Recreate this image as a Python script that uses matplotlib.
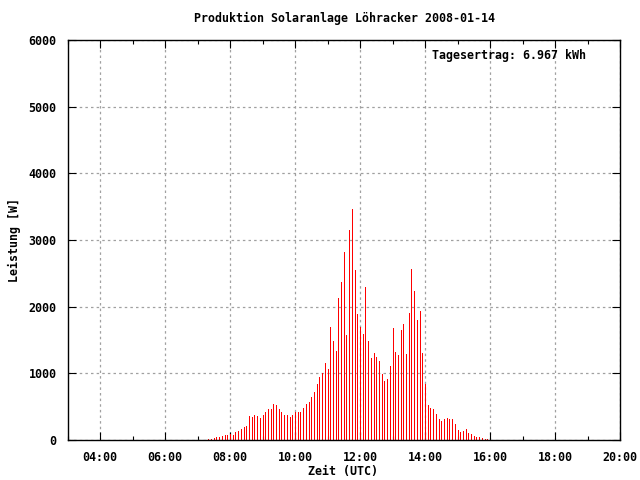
import matplotlib
matplotlib.use("Agg")
import matplotlib.pyplot as plt
from matplotlib.ticker import MultipleLocator, FuncFormatter

# 5-minute samples, Leistung in W
times = [
    "07:20", "07:25", "07:30", "07:35", "07:40", "07:45", "07:50", "07:55",
    "08:00", "08:05", "08:10", "08:15", "08:20", "08:25", "08:30", "08:35", "08:40", "08:45", "08:50", "08:55",
    "09:00", "09:05", "09:10", "09:15", "09:20", "09:25", "09:30", "09:35", "09:40", "09:45", "09:50", "09:55",
    "10:00", "10:05", "10:10", "10:15", "10:20", "10:25", "10:30", "10:35", "10:40", "10:45", "10:50", "10:55",
    "11:00", "11:05", "11:10", "11:15", "11:20", "11:25", "11:30", "11:35", "11:40", "11:45", "11:50", "11:55",
    "12:00", "12:05", "12:10", "12:15", "12:20", "12:25", "12:30", "12:35", "12:40", "12:45", "12:50", "12:55",
    "13:00", "13:05", "13:10", "13:15", "13:20", "13:25", "13:30", "13:35", "13:40", "13:45", "13:50", "13:55",
    "14:00", "14:05", "14:10", "14:15", "14:20", "14:25", "14:30", "14:35", "14:40", "14:45", "14:50", "14:55",
    "15:00", "15:05", "15:10", "15:15", "15:20", "15:25", "15:30", "15:35", "15:40", "15:45", "15:50", "15:55",
]
power = [
    20, 20, 35, 40, 50, 65, 80, 80,
    95, 80, 115, 140, 170, 200, 215, 365, 350, 380, 365, 335,
    380, 425, 470, 470, 545, 530, 470, 425, 380, 380, 350, 380,
    415, 425, 425, 485, 540, 570, 640, 715, 835, 950, 1000, 1150,
    1060, 1700, 1490, 1330, 2135, 2375, 2820, 1580, 3150, 3460, 2550, 1895,
    1700, 1595, 2300, 1490, 1225, 1300, 1240, 1180, 985, 880, 910, 1105,
    1685, 1315, 1270, 1655, 1745, 1285, 1910, 2565, 2240, 1805, 1940, 1300,
    835, 520, 480, 465, 390, 315, 285, 315, 330, 315, 315, 240,
    150, 120, 138, 168, 108, 92, 62, 48, 48, 32, 18, 18,
]
title = "Produktion Solaranlage Löhracker 2008-01-14"
ertrag = "Tagesertrag: 6.967 kWh"

# hours as float for the x axis
hours = [int(t[:2]) + int(t[3:]) / 60 for t in times]

font = {"family": "DejaVu Sans Mono", "weight": "bold", "size": 8.4}
plt.rcParams["font.family"] = "DejaVu Sans Mono"
plt.rcParams["font.weight"] = "bold"
plt.rcParams["font.size"] = 8.4

fig = plt.figure(figsize=(6.4, 4.8), dpi=100)
ax = fig.add_axes([67.5 / 640, 40 / 480, 552.5 / 640, 400 / 480])

# crisp 1px impulses like gnuplot
ax.vlines(hours, 0, power, colors="#ff0000", linewidth=0.72, antialiased=False)

ax.set_xlim(3, 20)
ax.set_ylim(0, 6000)
ax.xaxis.set_major_locator(MultipleLocator(2))
ax.xaxis.set_minor_locator(MultipleLocator(1))
ax.yaxis.set_major_locator(MultipleLocator(1000))
ax.xaxis.set_major_formatter(FuncFormatter(lambda v, p: "%02d:00" % int(round(v))))

ax.grid(True, which="major", color="#a0a0a0", linestyle=(0, (2, 2.5)), linewidth=0.9)
ax.tick_params(which="both", direction="in", top=True, right=True, colors="black",
               labelsize=8.4)
ax.tick_params(which="major", length=6, width=0.8, pad=8)
ax.tick_params(which="minor", length=3, width=0.8)
for s in ax.spines.values():
    s.set_linewidth(1.0)
for lab in ax.get_xticklabels() + ax.get_yticklabels():
    lab.set_fontweight("bold")

ax.text(0.938, 0.96, ertrag, transform=ax.transAxes, ha="right", va="center", **font)
fig.text(345 / 640, 1 - 18 / 480, title, ha="center", va="center", **font)
fig.text(343 / 640, 1 - 472 / 480, "Zeit (UTC)", ha="center", va="center", **font)
fig.text(14 / 640, 0.5, "Leistung [W]", ha="center", va="center", rotation=90, **font)

fig.savefig("out.png", dpi=100)
